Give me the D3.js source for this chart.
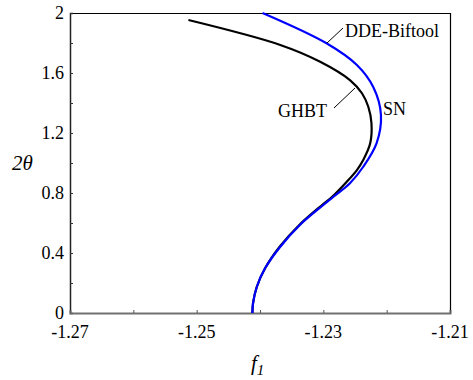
<!DOCTYPE html>
<html>
<head>
<meta charset="utf-8">
<script src="https://cdn.jsdelivr.net/npm/d3@7"></script>
<style>
  body { margin: 0; background: #fff; }
</style>
</head>
<body>
<div id="chart"></div>
<script>
// chart data
const xTicks = [-1.27, -1.26, -1.25, -1.24, -1.23, -1.22, -1.21];
const xTickLabels = ['-1.27', '', '-1.25', '', '-1.23', '', '-1.21'];
const yTicks = [0, 0.2, 0.4, 0.6, 0.8, 1.0, 1.2, 1.4, 1.6, 1.8, 2.0];
const yTickLabels = ['0', '', '0.4', '', '0.8', '', '1.2', '', '1.6', '', '2'];

// DDE-Biftool (SN) branch: f1 and 2theta
const snF = [-1.2396, -1.2295, -1.2247, -1.2221, -1.2209, -1.2216, -1.2237, -1.2258, -1.2284, -1.2300, -1.2337, -1.2368, -1.2392, -1.2405, -1.2411, -1.2412];
const snT = [2.0, 1.798, 1.653, 1.505, 1.32, 1.131, 0.975, 0.865, 0.775, 0.72, 0.587, 0.442, 0.298, 0.175, 0.065, 0.0];

// GHBT branch
const ghF = [-1.2513, -1.2368, -1.2305, -1.2258, -1.2239, -1.2229, -1.2224, -1.2226, -1.2237, -1.2247, -1.2263, -1.2286, -1.2302, -1.2338, -1.2369, -1.2392, -1.2405, -1.2411, -1.2412];
const ghT = [1.953, 1.787, 1.675, 1.553, 1.465, 1.375, 1.265, 1.131, 1.02, 0.953, 0.875, 0.775, 0.72, 0.587, 0.442, 0.298, 0.175, 0.065, 0.0];

const FONT = 'Liberation Serif';
const W = 473, H = 380;
const M = {top: 13, right: 23, bottom: 67, left: 70};
const pw = W - M.left - M.right, ph = H - M.top - M.bottom;

const svg = d3.select('#chart').append('svg')
  .attr('width', W).attr('height', H);

const x = d3.scaleLinear().domain([-1.27, -1.21]).range([M.left, M.left + pw]);
const y = d3.scaleLinear().domain([0, 2]).range([M.top + ph, M.top]);

// frame: top and right thin black
svg.append('line').attr('x1', M.left).attr('x2', M.left + pw)
  .attr('y1', M.top + 0.5).attr('y2', M.top + 0.5).attr('stroke', '#000').attr('stroke-width', 1.2);
svg.append('line').attr('x1', M.left + pw + 0.5).attr('x2', M.left + pw + 0.5)
  .attr('y1', M.top).attr('y2', M.top + ph).attr('stroke', '#000').attr('stroke-width', 1.2);

// left axis, ticks inward
const yAxis = d3.axisRight(y).tickValues(yTicks).tickSize(3).tickFormat('');
svg.append('g').attr('transform', 'translate(' + M.left + ',0)').call(yAxis)
  .call(g => g.select('.domain').attr('stroke', '#222').attr('stroke-width', 1.5))
  .call(g => g.selectAll('.tick line').attr('stroke', '#333'));
svg.append('g').selectAll('text').data(yTicks).join('text')
  .attr('x', M.left - 6).attr('y', d => y(d)).attr('dy', '0.35em')
  .attr('text-anchor', 'end').attr('font-family', FONT).attr('font-size', 18)
  .text((d, i) => yTickLabels[i]);

// bottom axis (grey), ticks inward
const xAxis = d3.axisTop(x).tickValues(xTicks).tickSize(3).tickFormat('');
svg.append('g').attr('transform', 'translate(0,' + (M.top + ph) + ')').call(xAxis)
  .call(g => g.select('.domain').attr('stroke', '#707070').attr('stroke-width', 2))
  .call(g => g.selectAll('.tick line').attr('stroke', '#555'));
svg.append('g').selectAll('text').data(xTicks).join('text')
  .attr('x', d => x(d)).attr('y', M.top + ph + 25)
  .attr('text-anchor', 'middle').attr('font-family', FONT).attr('font-size', 18)
  .text((d, i) => xTickLabels[i]);

// curves
const line = d3.line().x(d => x(d[0])).y(d => y(d[1])).curve(d3.curveCatmullRom.alpha(0.5));
const snData = snF.map((f, i) => [f, snT[i]]);
const ghData = ghF.map((f, i) => [f, ghT[i]]);

svg.append('path').datum(ghData).attr('d', line)
  .attr('fill', 'none').attr('stroke', '#000').attr('stroke-width', 2.2);
svg.append('path').datum(snData).attr('d', line)
  .attr('fill', 'none').attr('stroke', '#0000ff').attr('stroke-width', 2.2);

// annotations
svg.append('line').attr('x1', 327).attr('y1', 43).attr('x2', 343).attr('y2', 28)
  .attr('stroke', '#000').attr('stroke-width', 1);
svg.append('text').attr('x', 345).attr('y', 36.5).attr('font-family', FONT).attr('font-size', 18).text('DDE-Biftool');
svg.append('line').attr('x1', 334).attr('y1', 108).attr('x2', 355).attr('y2', 88)
  .attr('stroke', '#000').attr('stroke-width', 1);
svg.append('text').attr('x', 278).attr('y', 116.5).attr('font-family', FONT).attr('font-size', 18).text('GHBT');
svg.append('text').attr('x', 383).attr('y', 115).attr('font-family', FONT).attr('font-size', 18).text('SN');

// axis titles
svg.append('text').attr('x', 12).attr('y', 170).attr('font-family', FONT).attr('font-size', 21)
  .attr('font-style', 'italic').text('2θ');
const fl = svg.append('text').attr('x', 251).attr('y', 370).attr('font-family', FONT)
  .attr('font-size', 21).attr('font-style', 'italic');
fl.append('tspan').text('f');
fl.append('tspan').attr('dy', 5).attr('font-size', 15).text('1');
</script>
</body>
</html>
